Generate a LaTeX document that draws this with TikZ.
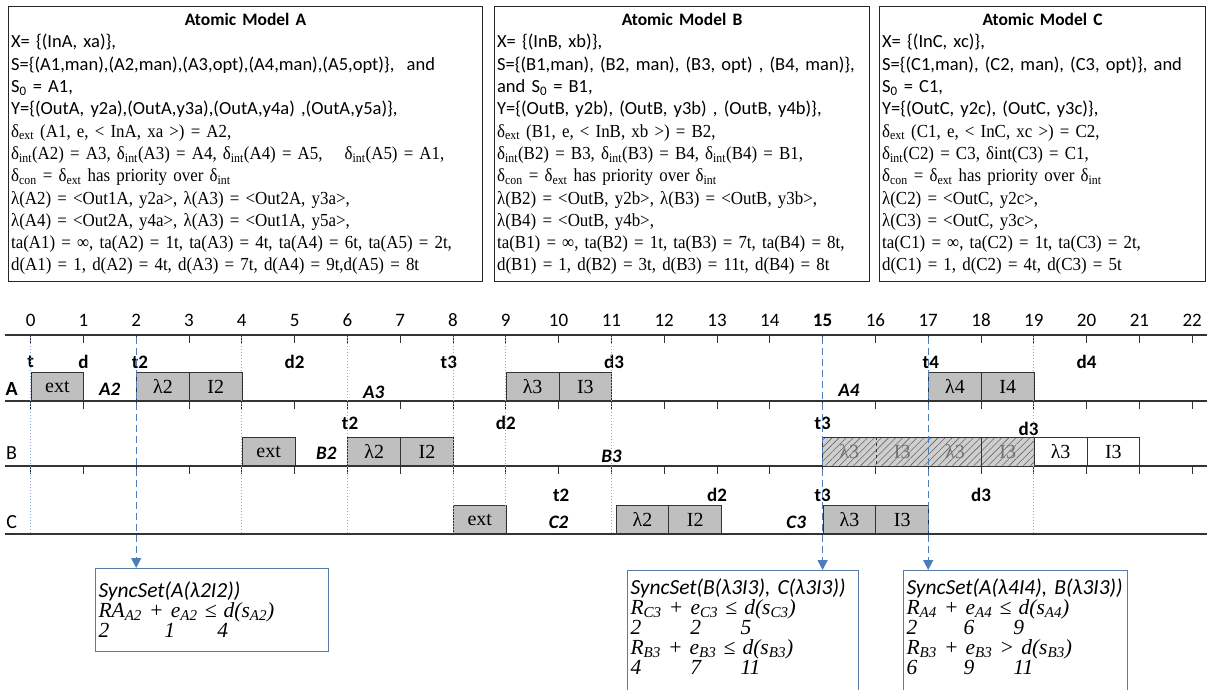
\documentclass[tikz,border=0pt]{standalone}
\usepackage{fontspec}
\setmainfont{Carlito}
\newfontfamily\tnr{Liberation Serif}
\newfontfamily\tnrc[FakeStretch=0.92]{Liberation Serif}
\usetikzlibrary{arrows.meta,patterns.meta}
\definecolor{evGray}{HTML}{BFBFBF}
\definecolor{syncBlue}{HTML}{4A7EBB}
\definecolor{guideBlue}{HTML}{8EAADB}
\definecolor{frameBlue}{HTML}{5A7BA6}
\newcommand\tms{\tnrc\fontsize{18.4}{22.3}\selectfont}

\begin{document}
\begin{tikzpicture}[x=1pt, y=-1pt,
    modelbox/.style={draw=black!85, line width=1.2pt, anchor=north west, align=left,
      inner xsep=2.5pt, inner ysep=0pt, minimum height=275pt, font=\fontsize{18.5}{22.3}\selectfont},
    evbox/.style={draw=black!80, line width=0.8pt, fill=evGray, anchor=south west,
      minimum width=52.8pt, minimum height=28pt, inner sep=0pt, font=\tnr\fontsize{20}{20}\selectfont},
    hatchbox/.style={evbox, draw=none, fill=none, preaction={fill=evGray!75},
      pattern={Lines[angle=45,distance=5pt,line width=0.6pt]}, pattern color=black!60, text=black!55},
    whitebox/.style={evbox, fill=white},
    numlbl/.style={font=\fontsize{19}{19}\selectfont, inner sep=0pt},
    evlbl/.style={font=\bfseries\fontsize{19}{19}\selectfont, inner sep=0pt},
    stlbl/.style={font=\bfseries\itshape\fontsize{19}{19}\selectfont, inner sep=0pt},
    rowname/.style={font=\fontsize{20}{20}\selectfont, inner sep=0pt},
    rowline/.style={draw=black!80, line width=1.3pt},
    tickmark/.style={draw=black!80, line width=1pt},
    guideline/.style={draw=guideBlue, dotted, line width=1pt},
    syncarrow/.style={draw=syncBlue, line width=1.4pt, dash pattern=on 7pt off 4pt,
      -{Triangle[length=10pt,width=10pt]}},
    syncbox/.style={draw=frameBlue, line width=1pt, anchor=north west, align=left,
      inner xsep=3pt, inner ysep=0pt, font=\itshape\fontsize{21.5}{20}\selectfont}]

  \useasboundingbox (0,0) rectangle (1207,690);
  \clip (0,0) rectangle (1207,690);

  \node[modelbox, text width=469pt] (boxA) at (8,6) {%
    \makebox[\linewidth]{\bfseries\fontsize{17.5}{20}\selectfont Atomic Model A}\\
    X= \{(InA, xa)\},\\
    S=\{(A1,man),(A2,man),(A3,opt),(A4,man),(A5,opt)\},\ \ and\\
    S\textsubscript{0} = A1,\\
    Y=\{(OutA, y2a),(OutA,y3a),(OutA,y4a) ,(OutA,y5a)\},\\
    \tms δ\textsubscript{ext} (A1, e, < InA, xa >) = A2,\\
    δ\textsubscript{int}(A2) = A3, δ\textsubscript{int}(A3) = A4, δ\textsubscript{int}(A4) = A5,\hspace{22pt}δ\textsubscript{int}(A5) = A1,\\
    δ\textsubscript{con} = δ\textsubscript{ext} has priority over δ\textsubscript{int}\\
    λ(A2) = <Out1A, y2a>, λ(A3) = <Out2A, y3a>,\\
    λ(A4) = <Out2A, y4a>, λ(A3) = <Out1A, y5a>,\\
    ta(A1) = ∞, ta(A2) = 1t, ta(A3) = 4t, ta(A4) = 6t, ta(A5) = 2t,\\
    d(A1) = 1, d(A2) = 4t, d(A3) = 7t, d(A4) = 9t,d(A5) = 8t};

  \node[modelbox, text width=370pt] (boxB) at (494,6) {%
    \makebox[\linewidth]{\bfseries\fontsize{17.5}{20}\selectfont Atomic Model B}\\
    X= \{(InB, xb)\},\\
    S=\{(B1,man), (B2, man), (B3, opt) , (B4, man)\},\\
    and S\textsubscript{0} = B1,\\
    Y=\{(OutB, y2b), (OutB, y3b) , (OutB, y4b)\},\\
    \tms δ\textsubscript{ext} (B1, e, < InB, xb >) = B2,\\
    δ\textsubscript{int}(B2) = B3, δ\textsubscript{int}(B3) = B4, δ\textsubscript{int}(B4) = B1,\\
    δ\textsubscript{con} = δ\textsubscript{ext} has priority over δ\textsubscript{int}\\
    λ(B2) = <OutB, y2b>, λ(B3) = <OutB, y3b>,\\
    λ(B4) = <OutB, y4b>,\\
    ta(B1) = ∞, ta(B2) = 1t, ta(B3) = 7t, ta(B4) = 8t,\\
    d(B1) = 1, d(B2) = 3t, d(B3) = 11t, d(B4) = 8t};

  \node[modelbox, text width=321pt] (boxC) at (879,6) {%
    \makebox[\linewidth]{\bfseries\fontsize{17.5}{20}\selectfont Atomic Model C}\\
    X= \{(InC, xc)\},\\
    S=\{(C1,man), (C2, man), (C3, opt)\}, and\\
    S\textsubscript{0} = C1,\\
    Y=\{(OutC, y2c), (OutC, y3c)\},\\
    \tms δ\textsubscript{ext} (C1, e, < InC, xc >) = C2,\\
    δ\textsubscript{int}(C2) = C3, δint(C3) = C1,\\
    δ\textsubscript{con} = δ\textsubscript{ext} has priority over δ\textsubscript{int}\\
    λ(C2) = <OutC, y2c>,\\
    λ(C3) = <OutC, y3c>,\\
    ta(C1) = ∞, ta(C2) = 1t, ta(C3) = 2t,\\
    d(C1) = 1, d(C2) = 4t, d(C3) = 5t};

  \node[syncbox, text width=227pt, minimum height=83pt] (sA) at (95,568) {%
    SyncSet(A(λ2I2))\\
    {\tnr RA\textsubscript{A2} + e\textsubscript{A2} ≤ d(s\textsubscript{A2})}\\
    {\tnr\makebox[66pt][l]{2}\makebox[53pt][l]{1}4}};
  \node[syncbox, draw=none, text width=224pt, minimum height=112pt] (sBC) at (627,570) {%
    SyncSet(B(λ3I3), C(λ3I3))\\
    {\tnr R\textsubscript{C3} + e\textsubscript{C3} ≤ d(s\textsubscript{C3})}\\
    {\tnr\makebox[60pt][l]{2}\makebox[50pt][l]{2}5}\\
    {\tnr R\textsubscript{B3} + e\textsubscript{B3} ≤ d(s\textsubscript{B3})}\\
    {\tnr\makebox[60pt][l]{4}\makebox[50pt][l]{7}11}};
  \node[syncbox, draw=none, text width=217.5pt, minimum height=112pt] (sAB) at (903,570) {%
    SyncSet(A(λ4I4), B(λ3I3))\\
    {\tnr R\textsubscript{A4} + e\textsubscript{A4} ≤ d(s\textsubscript{A4})}\\
    {\tnr\makebox[57pt][l]{2}\makebox[50pt][l]{6}9}\\
    {\tnr R\textsubscript{B3} + e\textsubscript{B3} > d(s\textsubscript{B3})}\\
    {\tnr\makebox[57pt][l]{6}\makebox[50pt][l]{9}11}};
  \draw[frameBlue, line width=1pt] (sBC.north west) rectangle ([yshift=-20pt]sBC.south east);
  \draw[frameBlue, line width=1pt] (sAB.north west) rectangle ([yshift=-20pt]sAB.south east);

  \begin{scope}[shift={(30.6pt,0pt)}, x=52.8pt]
    \draw[rowline] (-0.49,335) -- (22.3,335);
    \draw[rowline] (-0.49,401) -- (22.3,401);
    \draw[rowline] (-0.49,466) -- (22.3,466);
    \draw[rowline] (-0.49,534) -- (22.3,534);
    \foreach \n in {0,...,22} {
      \node[numlbl] (num\n) at (\n,320) {\ifnum\n=15 \bfseries\fi\n};
      \foreach \y in {335,401,466}
        \draw[tickmark] (\n,\y) -- (\n,\y+8);
    }

    \node[rowname, font=\bfseries\fontsize{20}{20}\selectfont] (rowA) at (-0.36,389) {A};
    \node[rowname] (rowB) at (-0.36,453) {B};
    \node[rowname] (rowC) at (-0.36,522) {C};

    % row A
    \node[evbox] (aExt) at (0,401) {ext};
    \node[evbox] (aL2) at (2,401) {λ2};
    \node[evbox] (aI2) at (3,401) {I2};
    \node[evbox] (aL3) at (9,401) {λ3};
    \node[evbox] (aI3) at (10,401) {I3};
    \node[evbox] (aL4) at (17,401) {λ4};
    \node[evbox] (aI4) at (18,401) {I4};
    \node[evlbl] (tA1) at (0,362) {t};
    \node[evlbl] (dA1) at (1,362) {d};
    \node[evlbl] (tA2) at (2.07,362) {t2};
    \node[evlbl] (dA2) at (5,362) {d2};
    \node[evlbl] (tA3) at (7.92,362) {t3};
    \node[evlbl] (dA3) at (11.05,362) {d3};
    \node[evlbl] (tA4) at (17.05,362) {t4};
    \node[evlbl] (dA4) at (20,362) {d4};
    \node[stlbl] (stA2) at (1.5,389) {A2};
    \node[stlbl] (stA3) at (6.5,392) {A3};
    \node[stlbl] (stA4) at (15.5,390) {A4};

    % row B
    \node[evbox] (bExt) at (4,466) {ext};
    \node[evbox] (bL2) at (6,466) {λ2};
    \node[evbox] (bI2) at (7,466) {I2};
    \node[hatchbox] (bL3a) at (15,466) {λ3};
    \node[hatchbox] (bI3a) at (16,466) {I3};
    \node[hatchbox] (bL3b) at (17,466) {λ3};
    \node[hatchbox] (bI3b) at (18,466) {I3};
    \draw[draw=black!80, line width=0.8pt] (bL3a.south west) rectangle (bI3b.north east);
    \draw[draw=black!80, line width=0.8pt, dashed] (bL3a.north east) -- (bL3a.south east);
    \draw[draw=black!80, line width=0.8pt] (bL3b.north east) -- (bL3b.south east);
    \node[whitebox] (bL3c) at (19,466) {λ3};
    \node[whitebox] (bI3c) at (20,466) {I3};
    \node[evlbl] (tB2) at (6.05,423) {t2};
    \node[evlbl] (dB2) at (9,423) {d2};
    \node[evlbl] (tB3) at (15,423) {t3};
    \node[evlbl] (dB3) at (18.9,429) {d3};
    \node[stlbl] (stB2) at (5.6,453) {B2};
    \node[stlbl] (stB3) at (11,456) {B3};

    % row C
    \node[evbox] (cExt) at (8,534) {ext};
    \node[evbox] (cL2) at (11.08,534) {λ2};
    \node[evbox] (cI2) at (12.08,534) {I2};
    \node[evbox] (cL3) at (15,534) {λ3};
    \node[evbox] (cI3) at (16,534) {I3};
    \node[evlbl] (tC2) at (10.05,495) {t2};
    \node[evlbl] (dC2) at (13,495) {d2};
    \node[evlbl] (tC3) at (15,495) {t3};
    \node[evlbl] (dC3) at (18,495) {d3};
    \node[stlbl] (stC2) at (10,522) {C2};
    \node[stlbl] (stC3) at (14.5,522) {C3};

    \foreach \n in {0,4,6,8,9,11,19}
      \draw[guideline] (\n,337) -- (\n,534);

    \coordinate (dA) at (2,337);
    \coordinate (dBC) at (15,337);
    \coordinate (dAB) at (17,337);
    \draw[syncarrow] (dA) -- (dA |- sA.north);
    \draw[syncarrow] (dBC) -- (dBC |- sBC.north);
    \draw[syncarrow] (dAB) -- (dAB |- sAB.north);
  \end{scope}
\end{tikzpicture}
\end{document}
